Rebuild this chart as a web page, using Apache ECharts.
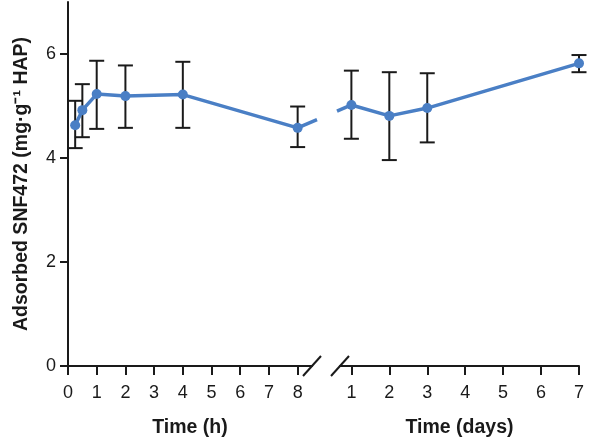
<!DOCTYPE html>
<html>
<head>
<meta charset="utf-8">
<script src="https://cdn.jsdelivr.net/npm/echarts@6/dist/echarts.min.js"></script>
<style>
html,body{margin:0;padding:0;background:#fff;}
#chart{width:590px;height:441px;}
</style>
</head>
<body>
<div id="chart"></div>
<script>
// ---- data ----
var hourTimes = [0.25, 0.5, 1, 2, 4, 8];
var hourMeans = [4.63, 4.92, 5.23, 5.19, 5.22, 4.58];
var hourLow   = [4.19, 4.40, 4.56, 4.58, 4.58, 4.21];
var hourHigh  = [5.10, 5.42, 5.87, 5.78, 5.85, 4.99];

var dayTimes = [1, 2, 3, 7];
var dayMeans = [5.02, 4.81, 4.96, 5.82];
var dayLow   = [4.37, 3.96, 4.30, 5.65];
var dayHigh  = [5.68, 5.65, 5.63, 5.98];

var hourTicks = [0, 1, 2, 3, 4, 5, 6, 7, 8];
var dayTicks = [1, 2, 3, 4, 5, 6, 7];
var yTicks = [0, 2, 4, 6];

var yTitle = 'Adsorbed SNF472 (mg\u00b7g\u207b\u00b9 HAP)';
var xTitleLeft = 'Time (h)';
var xTitleRight = 'Time (days)';

// ---- style ----
var BLUE = '#4a7fc5';
var INK = '#1a1a1a';
var FONT = '"Liberation Sans", Arial, sans-serif';

function zip(a, b) { return a.map(function (v, i) { return [v, b[i]]; }); }
function zip3(a, b, c) { return a.map(function (v, i) { return [v, b[i], c[i]]; }); }

function errRender(params, api) {
  var x = api.value(0);
  var lo = api.coord([x, api.value(1)]);
  var hi = api.coord([x, api.value(2)]);
  var hw = 7.5;
  var st = { stroke: INK, lineWidth: 2 };
  return {
    type: 'group',
    children: [
      { type: 'line', shape: { x1: lo[0], y1: lo[1], x2: hi[0], y2: hi[1] }, style: st },
      { type: 'line', shape: { x1: lo[0] - hw, y1: lo[1], x2: lo[0] + hw, y2: lo[1] }, style: st },
      { type: 'line', shape: { x1: hi[0] - hw, y1: hi[1], x2: hi[0] + hw, y2: hi[1] }, style: st }
    ]
  };
}

var axisLineStyle = { color: INK, width: 2 };
var labelStyle = { color: INK, fontSize: 18, fontFamily: FONT };
var nameStyle = { color: INK, fontSize: 19.5, fontWeight: 'bold', fontFamily: FONT };

var chart = echarts.init(document.getElementById('chart'), null, { renderer: 'canvas' });
chart.setOption({
  animation: false,
  backgroundColor: '#fff',
  grid: [
    { left: 68, top: 2, width: 244, height: 364, containLabel: false, outerBoundsMode: 'none' },
    { left: 340, top: 2, width: 239, height: 364, containLabel: false, outerBoundsMode: 'none' }
  ],
  xAxis: [
    {
      gridIndex: 0, type: 'value', min: 0, max: 8.5,
      axisLine: { show: true, onZero: false, lineStyle: axisLineStyle },
      axisTick: { show: true, length: 9, lineStyle: { color: INK, width: 2 }, customValues: hourTicks },
      axisLabel: Object.assign({ margin: 18, customValues: hourTicks }, labelStyle),
      splitLine: { show: false },
      name: xTitleLeft, nameLocation: 'middle', nameGap: 52, nameTextStyle: nameStyle
    },
    {
      gridIndex: 1, type: 'value', min: 0.7, max: 7,
      axisLine: { show: true, onZero: false, lineStyle: axisLineStyle },
      axisTick: { show: true, length: 9, lineStyle: { color: INK, width: 2 }, customValues: dayTicks },
      axisLabel: Object.assign({ margin: 18, customValues: dayTicks }, labelStyle),
      splitLine: { show: false },
      name: xTitleRight, nameLocation: 'middle', nameGap: 52, nameTextStyle: nameStyle
    }
  ],
  yAxis: [
    {
      gridIndex: 0, type: 'value', min: 0, max: 7,
      axisLine: { show: true, lineStyle: axisLineStyle },
      axisTick: { show: true, length: 8, lineStyle: { color: INK, width: 2 }, customValues: yTicks },
      axisLabel: Object.assign({ margin: 12, customValues: yTicks }, labelStyle),
      splitLine: { show: false },
      name: yTitle, nameLocation: 'middle', nameGap: 36, nameRotate: 90, nameTextStyle: nameStyle
    },
    {
      gridIndex: 1, type: 'value', min: 0, max: 7, show: false,
      splitLine: { show: false }
    }
  ],
  series: [
    {
      type: 'custom', xAxisIndex: 0, yAxisIndex: 0, renderItem: errRender,
      data: zip3(hourTimes, hourLow, hourHigh), z: 1, clip: false
    },
    {
      type: 'custom', xAxisIndex: 1, yAxisIndex: 1, renderItem: errRender,
      data: zip3(dayTimes, dayLow, dayHigh), z: 1, clip: false
    },
    {
      type: 'line', xAxisIndex: 0, yAxisIndex: 0, data: zip(hourTimes, hourMeans),
      symbol: 'circle', symbolSize: 10, showSymbol: true,
      lineStyle: { color: BLUE, width: 3.5 }, itemStyle: { color: BLUE }, z: 3
    },
    {
      type: 'line', xAxisIndex: 1, yAxisIndex: 1, data: zip(dayTimes, dayMeans),
      symbol: 'circle', symbolSize: 10, showSymbol: true,
      lineStyle: { color: BLUE, width: 3.5 }, itemStyle: { color: BLUE }, z: 3
    }
  ]
});

// ---- axis break marks and the connecting segment across the break ----
var n = hourTimes.length;
var pA = chart.convertToPixel({ xAxisIndex: 0, yAxisIndex: 0 }, [hourTimes[n - 1], hourMeans[n - 1]]);
var pB = chart.convertToPixel({ xAxisIndex: 1, yAxisIndex: 1 }, [dayTimes[0], dayMeans[0]]);
var leftEnd = chart.convertToPixel({ xAxisIndex: 0, yAxisIndex: 0 }, [8.5, 0]);
var rightStart = chart.convertToPixel({ xAxisIndex: 1, yAxisIndex: 1 }, [0.7, 0]);

function lerpAt(x) {
  var t = (x - pA[0]) / (pB[0] - pA[0]);
  return [x, pA[1] + t * (pB[1] - pA[1])];
}
var gapL = lerpAt(leftEnd[0] + 5);
var gapR = lerpAt(rightStart[0] - 3);

function slash(c) {
  return {
    type: 'line', z: 10,
    shape: { x1: c[0] - 9, y1: c[1] + 10, x2: c[0] + 9, y2: c[1] - 10 },
    style: { stroke: INK, lineWidth: 2 }
  };
}

chart.setOption({
  graphic: [
    { type: 'line', z: 5, shape: { x1: pA[0], y1: pA[1], x2: gapL[0], y2: gapL[1] },
      style: { stroke: BLUE, lineWidth: 3.5 } },
    { type: 'line', z: 5, shape: { x1: gapR[0], y1: gapR[1], x2: pB[0], y2: pB[1] },
      style: { stroke: BLUE, lineWidth: 3.5 } },
    slash(leftEnd),
    slash(rightStart)
  ]
});
</script>
</body>
</html>
